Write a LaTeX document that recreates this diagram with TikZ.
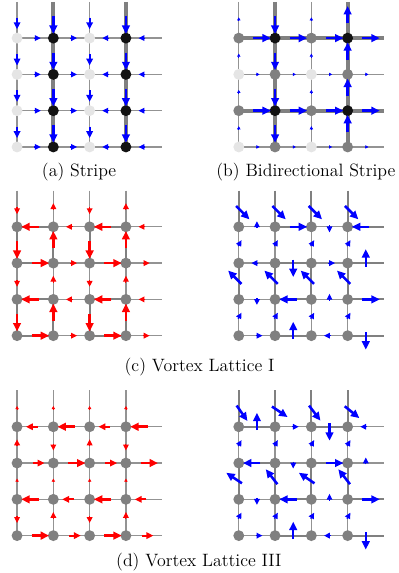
\documentclass[tikz,border=0pt]{standalone}
\usepackage{tikz}
\usetikzlibrary{arrows.meta, calc, backgrounds}
\tikzset{
  site/.style={circle, fill=gray, inner sep=0pt, minimum size=0.3cm},
  sitelight/.style={site, fill=black!10},
  sitedark/.style={site, fill=black!93},
  bthin/.style={draw=gray!85, line width=1pt},
  bmid/.style={draw=gray, line width=1.7pt},
  bthick/.style={draw=gray, line width=3.2pt},
  jbig/.style={line width=2pt, -{Triangle[length=6.6pt, width=6pt]}},
  jdiag/.style={jbig},
  jmed/.style={line width=1.4pt, -{Triangle[length=5.4pt, width=5pt]}},
  jsmall/.style={line width=0.9pt, -{Triangle[length=4.6pt, width=4.4pt]}},
  jtiny/.style={line width=0.5pt, -{Triangle[length=2.4pt, width=2.6pt]}},
  caption/.style={font=\fontsize{14}{17}\selectfont, inner sep=0pt},
}
% arrow lengths for the current styles
\def\lenjbig{0.48}
\def\lenjdiag{0.52}
\def\lenjmed{0.32}
\def\lenjsmall{0.19}
\def\lenjtiny{0.09}
\newcommand{\jarr}[3]{%
  \draw[#1] (#2) ++({#3+180}:{0.2*\csname len#1\endcsname}) -- ++({#3}:{\csname len#1\endcsname});}
% bond (row, col) -> (row, col+1)
\newcommand{\hbond}[6]{%
  \pgfmathtruncatemacro{\nx}{#3+1}%
  \begin{pgfonlayer}{background}
    \draw[#4] (#1-#2-#3.center) -- (#1-#2-\nx.center);
  \end{pgfonlayer}
  \jarr{#5}{$(#1-#2-#3.center)!0.5!(#1-#2-\nx.center)$}{#6}}
% bond (row, col) -> (row+1, col)
\newcommand{\vbond}[6]{%
  \pgfmathtruncatemacro{\nx}{#2+1}%
  \begin{pgfonlayer}{background}
    \draw[#4] (#1-#2-#3.center) -- (#1-\nx-#3.center);
  \end{pgfonlayer}
  \jarr{#5}{$(#1-#2-#3.center)!0.5!(#1-\nx-#3.center)$}{#6}}

\begin{document}
\begin{tikzpicture}
  \useasboundingbox (0,0) rectangle (10.99,-15.79);

  % sites
  \foreach \r in {1,...,4}
    \foreach \c/\s in {1/sitelight, 2/sitedark, 3/sitelight, 4/sitedark}
      \node[\s] (a-\r-\c) at ({0.47+\c-1}, {-1.05-\r+1}) {};
  \foreach \r/\c/\s in {1/1/site, 1/2/sitedark, 1/3/site, 1/4/sitedark,
                        2/1/sitelight, 2/2/site, 2/3/sitelight, 2/4/site,
                        3/1/site, 3/2/sitedark, 3/3/site, 3/4/sitedark,
                        4/1/sitelight, 4/2/site, 4/3/sitelight, 4/4/site}
    \node[\s] (b-\r-\c) at ({6.58+\c-1}, {-1.05-\r+1}) {};
  \foreach \p/\ox/\oy in {cl/0.47/-6.25, cr/6.58/-6.25, dl/0.47/-11.76, dr/6.58/-11.76}
    \foreach \r in {1,...,4}
      \foreach \c in {1,...,4}
        \node[site] (\p-\r-\c) at ({\ox+\c-1}, {\oy-\r+1}) {};

  % open ends of the lattices
  \foreach \p/\ox/\oy in {a/0.47/-1.05, b/6.58/-1.05, cl/0.47/-6.25,
                          cr/6.58/-6.25, dl/0.47/-11.76, dr/6.58/-11.76} {
    \foreach \c in {1,...,4} \coordinate (\p-0-\c) at ({\ox+\c-1}, {\oy+1});
    \foreach \r in {1,...,4} \coordinate (\p-\r-5) at ({\ox+4}, {\oy-\r+1});
  }

  % (a) stripe
  \begin{scope}[blue]
    \foreach \r in {1,...,4}
      \foreach \c/\t in {1/0, 2/0, 3/180, 4/180}
        {\hbond{a}{\r}{\c}{bthin}{jsmall}{\t}}
    \foreach \r in {0,...,3}
      \foreach \c/\w/\s in {1/bthin/jmed, 2/bthick/jbig, 3/bthin/jmed, 4/bthick/jbig}
        {\vbond{a}{\r}{\c}{\w}{\s}{270}}
  \end{scope}

  % (b) bidirectional stripe
  \begin{scope}[blue]
    \foreach \r/\w/\s in {1/bthick/jbig, 2/bthin/jtiny, 3/bthick/jbig, 4/bthin/jtiny}
      \foreach \c in {1,...,4}
        {\hbond{b}{\r}{\c}{\w}{\s}{0}}
    \foreach \c/\w/\s/\t in {1/bthin/jtiny/90, 2/bthick/jbig/270,
                             3/bthin/jtiny/90, 4/bthick/jbig/90}
      \foreach \r in {0,...,3}
        {\vbond{b}{\r}{\c}{\w}{\s}{\t}}
  \end{scope}

  % (c) vortex lattice I, left
  \begin{scope}[red]
    \foreach \r/\t in {1/180, 2/0, 3/180, 4/0}
      \foreach \c/\w/\s in {1/bmid/jbig, 2/bthin/jsmall, 3/bmid/jbig, 4/bthin/jsmall}
        {\hbond{cl}{\r}{\c}{\w}{\s}{\t}}
    \foreach \r/\w/\s in {0/bthin/jsmall, 1/bmid/jbig, 2/bthin/jsmall, 3/bmid/jbig}
      \foreach \c/\t in {1/270, 2/90, 3/270, 4/90}
        {\vbond{cl}{\r}{\c}{\w}{\s}{\t}}
  \end{scope}

  % (c) vortex lattice I, right
  \begin{scope}[blue]
    \foreach \r/\a/\d/\wo/\so/\we/\se in {1/90/-90/bthin/jsmall/bmid/jbig,
                                         2/180/90/bthin/jsmall/bmid/jbig,
                                         3/270/-90/bthin/jsmall/bmid/jbig,
                                         4/0/90/bthin/jsmall/bmid/jbig} {
      \hbond{cr}{\r}{1}{\wo}{\so}{\a}
      \hbond{cr}{\r}{2}{\we}{\se}{\a+\d}
      \hbond{cr}{\r}{3}{\wo}{\so}{\a+2*\d}
      \hbond{cr}{\r}{4}{\we}{\se}{\a+3*\d}
    }
    \foreach \r/\w/\s/\t in {0/bmid/jdiag/-45, 1/bthin/jsmall/60,
                             2/bmid/jdiag/135, 3/bthin/jsmall/60}
      \foreach \c in {1,...,4}
        {\vbond{cr}{\r}{\c}{\w}{\s}{\t}}
  \end{scope}

  % (d) vortex lattice III, left
  \begin{scope}[red]
    \foreach \r/\t/\so/\se in {1/180/jmed/jbig, 2/0/jmed/jbig,
                               3/180/jbig/jmed, 4/0/jbig/jmed} {
      \hbond{dl}{\r}{1}{bthin}{\so}{\t}
      \hbond{dl}{\r}{2}{bthin}{\se}{\t}
      \hbond{dl}{\r}{3}{bthin}{\so}{\t}
      \hbond{dl}{\r}{4}{bthin}{\se}{\t}
    }
    \foreach \r/\s/\ta/\tb in {0/jtiny/90/90, 1/jsmall/90/270,
                               2/jtiny/90/90, 3/jsmall/270/90} {
      \vbond{dl}{\r}{1}{bthin}{\s}{\ta}
      \vbond{dl}{\r}{2}{bthin}{\s}{\tb}
      \vbond{dl}{\r}{3}{bthin}{\s}{\ta}
      \vbond{dl}{\r}{4}{bthin}{\s}{\tb}
    }
  \end{scope}

  % (d) vortex lattice III, right
  \begin{scope}[blue]
    \foreach \r/\a/\d/\wo/\so/\we/\se in {1/90/-90/bmid/jbig/bthin/jsmall,
                                         2/180/90/bmid/jbig/bthin/jsmall,
                                         3/270/-90/bthin/jsmall/bmid/jbig,
                                         4/0/90/bthin/jsmall/bmid/jbig} {
      \hbond{dr}{\r}{1}{\wo}{\so}{\a}
      \hbond{dr}{\r}{2}{\we}{\se}{\a+\d}
      \hbond{dr}{\r}{3}{\wo}{\so}{\a+2*\d}
      \hbond{dr}{\r}{4}{\we}{\se}{\a+3*\d}
    }
    \foreach \c/\ta/\tb in {1/-55/146, 2/-34/128, 3/-53/146, 4/-39/128} {
      \vbond{dr}{0}{\c}{bmid}{jdiag}{\ta}
      \vbond{dr}{1}{\c}{bthin}{jsmall}{60}
      \vbond{dr}{2}{\c}{bmid}{jdiag}{\tb}
      \vbond{dr}{3}{\c}{bthin}{jsmall}{60}
    }
  \end{scope}

  % captions
  \node[caption] (cap-a) at (2.18,-4.74) {(a) Stripe};
  \node[caption] (cap-b) at (8.43,-4.74) {(b) Bidirectional Stripe};
  \node[caption] (cap-c) at (5.5,-10.11) {(c) Vortex Lattice I};
  \node[caption] (cap-d) at (5.48,-15.48) {(d) Vortex Lattice III};
\end{tikzpicture}
\end{document}
